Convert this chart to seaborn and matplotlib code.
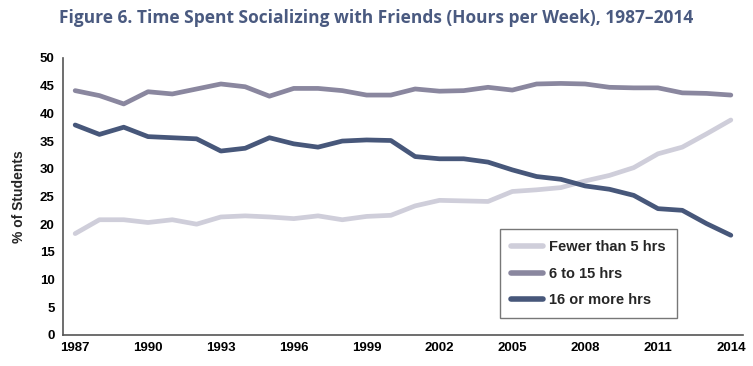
import numpy as np
import pandas as pd
import matplotlib
matplotlib.use("Agg")
import matplotlib.pyplot as plt
import seaborn as sns

# ---------------------------------------------------------------
# data (% of students)
# ---------------------------------------------------------------
years = list(range(1987, 2015))

fewer_than_5 = [18.3, 20.8, 20.8, 20.3, 20.8, 20.0, 21.3, 21.5, 21.3, 21.0,
                21.5, 20.8, 21.4, 21.6, 23.3, 24.3, 24.2, 24.1, 25.9, 26.2,
                26.6, 27.8, 28.8, 30.2, 32.7, 33.9, 36.3, 38.8]

six_to_15 = [44.1, 43.2, 41.7, 43.9, 43.5, 44.4, 45.3, 44.8, 43.1, 44.5,
             44.5, 44.1, 43.3, 43.3, 44.4, 44.0, 44.1, 44.7, 44.2, 45.3,
             45.4, 45.3, 44.7, 44.6, 44.6, 43.7, 43.6, 43.3]

sixteen_plus = [37.9, 36.2, 37.5, 35.8, 35.6, 35.4, 33.2, 33.7, 35.6, 34.5,
                33.9, 35.0, 35.2, 35.1, 32.2, 31.8, 31.8, 31.2, 29.8, 28.6,
                28.1, 26.9, 26.3, 25.2, 22.8, 22.5, 20.1, 18.0]

series_names = ["Fewer than 5 hrs", "6 to 15 hrs", "16 or more hrs"]
colors = ["#CFCEDA", "#8A879F", "#47577A"]

year_labels = [1987, 1990, 1993, 1996, 1999, 2002, 2005, 2008, 2011, 2014]

df = pd.DataFrame({
    "Year": years * 3,
    "Pct": fewer_than_5 + six_to_15 + sixteen_plus,
    "Group": np.repeat(series_names, len(years)),
})

# ---------------------------------------------------------------
# plot
# ---------------------------------------------------------------
sns.set_style("white")
plt.rcParams["font.family"] = ["Liberation Sans", "DejaVu Sans"]

fig = plt.figure(figsize=(7.53, 3.66), dpi=100)
ax = fig.add_axes([0.0837, 0.0847, 0.903, 0.757])

sns.lineplot(data=df, x="Year", y="Pct", hue="Group", hue_order=series_names,
             palette=dict(zip(series_names, colors)), linewidth=3.4,
             solid_capstyle="round", ax=ax)

ax.set_xlim(1986.5, 2014.5)
ax.set_ylim(0, 50)
ax.set_yticks(range(0, 51, 5))
ax.set_xticks(year_labels)
ax.set_xticks(np.arange(1986.5, 2015, 1), minor=True)
ax.tick_params(axis="x", which="major", length=0, pad=5)
ax.tick_params(axis="x", which="minor", length=4, width=1, color="#555555",
               direction="out")
ax.tick_params(axis="y", length=3, width=1, color="#555555", direction="out",
               pad=3)
for lbl in ax.get_xticklabels() + ax.get_yticklabels():
    lbl.set_fontweight("bold")
    lbl.set_fontsize(9.5)
    lbl.set_color("black")

sns.despine(ax=ax)
for side in ["left", "bottom"]:
    ax.spines[side].set_color("#555555")
    ax.spines[side].set_linewidth(1.2)

ax.set_xlabel("")
ax.set_ylabel("% of Students", fontsize=10, fontweight="bold", labelpad=10)

leg = ax.legend(loc="lower left", bbox_to_anchor=(0.643, 0.061),
                frameon=True, fancybox=False, handlelength=2.2,
                handletextpad=0.4, labelspacing=0.85, borderpad=0.75,
                borderaxespad=0, prop={"weight": "bold", "size": 10.5})
leg.get_frame().set_edgecolor("#555555")
leg.get_frame().set_linewidth(1.0)
for h in leg.get_lines():
    h.set_linewidth(4)
    h.set_solid_capstyle("round")

fig.text(0.5, 0.952,
         "Figure 6. Time Spent Socializing with Friends (Hours per Week), 1987\u20132014",
         ha="center", va="center", fontsize=12.5, fontweight="bold",
         color="#4A5A80", family=["Open Sans", "DejaVu Sans"])

fig.savefig("out.png", dpi=100)
